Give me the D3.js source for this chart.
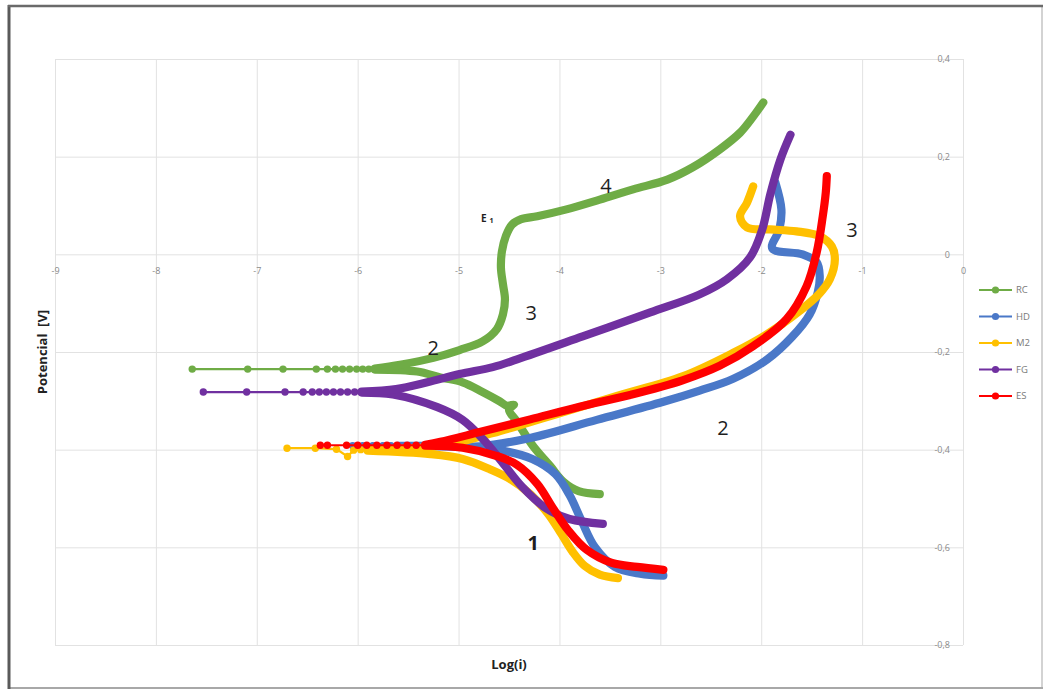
<!DOCTYPE html>
<html>
<head>
<meta charset="utf-8">
<script src="https://cdn.jsdelivr.net/npm/d3@7"></script>
<style>
  html, body { margin: 0; padding: 0; background: #fff; }
  svg { display: block; }
  text { font-family: "Open Sans", "Liberation Sans", sans-serif; }
</style>
</head>
<body>
<svg id="chart" width="1047" height="690"></svg>
<script>
// Polarisation curves: Log(i) against potential [V]
const xTicks = [-9, -8, -7, -6, -5, -4, -3, -2, -1, 0];
const yTicks = [-0.8, -0.6, -0.4, -0.2, 0, 0.2, 0.4];

const seriesNames = ["RC", "HD", "M2", "FG", "ES"];

// Points near the corrosion potential (drawn with markers), [log(i), E]
const rcTail = [[-7.64,-0.235],[-7.09,-0.235],[-6.74,-0.235],[-6.41,-0.235],[-6.30,-0.235],[-6.22,-0.235],[-6.15,-0.235],[-6.08,-0.235],[-6.01,-0.235],[-5.95,-0.235],[-5.89,-0.235],[-5.83,-0.235]];
const hdTail = [[-6.05,-0.392],[-5.95,-0.392],[-5.85,-0.392],[-5.75,-0.392],[-5.67,-0.392],[-5.60,-0.392]];
const m2Tail = [[-6.70,-0.397],[-6.42,-0.397],[-6.21,-0.399],[-6.10,-0.414],[-6.04,-0.401],[-5.97,-0.400],[-5.90,-0.401]];
const fgTail = [[-7.53,-0.282],[-7.10,-0.282],[-6.72,-0.282],[-6.54,-0.282],[-6.45,-0.282],[-6.38,-0.282],[-6.31,-0.282],[-6.24,-0.282],[-6.17,-0.282],[-6.10,-0.282],[-6.03,-0.282],[-5.96,-0.282]];
const esTail = [[-6.37,-0.391],[-6.30,-0.391],[-6.11,-0.391],[-6.00,-0.391],[-5.91,-0.391],[-5.81,-0.391],[-5.71,-0.391],[-5.61,-0.391],[-5.51,-0.391],[-5.42,-0.391],[-5.33,-0.391]];

// Anodic branches, [log(i), E]
const rcAnodic = [[-5.83,-0.234],[-5.58,-0.226],[-5.25,-0.212],[-4.99,-0.196],[-4.76,-0.178],[-4.62,-0.153],[-4.56,-0.123],[-4.54,-0.092],[-4.56,-0.061],[-4.58,-0.027],[-4.57,0.006],[-4.53,0.038],[-4.47,0.061],[-4.38,0.072],[-4.22,0.078],[-3.93,0.092],[-3.60,0.112],[-3.27,0.133],[-2.93,0.153],[-2.68,0.178],[-2.41,0.215],[-2.21,0.249],[-2.08,0.282],[-1.98,0.311]];
const hdAnodic = [[-5.60,-0.392],[-5.28,-0.392],[-4.79,-0.393],[-4.29,-0.376],[-3.63,-0.339],[-2.97,-0.302],[-2.61,-0.279],[-2.28,-0.255],[-1.94,-0.215],[-1.69,-0.168],[-1.52,-0.123],[-1.44,-0.078],[-1.42,-0.045],[-1.45,-0.016],[-1.59,0.000],[-1.89,0.012],[-1.82,0.051],[-1.80,0.092],[-1.86,0.147]];
const m2Anodic = [[-5.90,-0.400],[-5.18,-0.392],[-4.66,-0.366],[-4.09,-0.331],[-3.43,-0.290],[-2.78,-0.250],[-2.28,-0.202],[-1.94,-0.163],[-1.62,-0.116],[-1.43,-0.082],[-1.32,-0.051],[-1.27,-0.010],[-1.30,0.016],[-1.42,0.037],[-1.65,0.047],[-1.91,0.051],[-2.14,0.055],[-2.21,0.078],[-2.14,0.106],[-2.08,0.139]];
const fgAnodic = [[-5.96,-0.281],[-5.62,-0.276],[-5.31,-0.262],[-4.99,-0.245],[-4.66,-0.231],[-4.42,-0.215],[-3.77,-0.168],[-3.10,-0.119],[-2.61,-0.082],[-2.34,-0.051],[-2.11,-0.006],[-1.99,0.051],[-1.91,0.123],[-1.81,0.194],[-1.71,0.245]];
const esAnodic = [[-5.33,-0.390],[-5.18,-0.384],[-4.79,-0.364],[-4.29,-0.338],[-3.80,-0.312],[-3.30,-0.288],[-2.78,-0.258],[-2.41,-0.228],[-2.08,-0.188],[-1.75,-0.133],[-1.55,-0.065],[-1.45,0.004],[-1.39,0.078],[-1.36,0.127],[-1.35,0.160]];

// Cathodic branches, [log(i), E]
const rcCathodic = [[-5.83,-0.236],[-5.41,-0.240],[-5.18,-0.252],[-4.96,-0.262],[-4.76,-0.282],[-4.60,-0.300],[-4.52,-0.310],[-4.45,-0.308],[-4.50,-0.318],[-4.42,-0.343],[-4.26,-0.393],[-4.09,-0.434],[-3.96,-0.466],[-3.81,-0.485],[-3.60,-0.491]];
const hdCathodic = [[-5.60,-0.393],[-4.99,-0.394],[-4.59,-0.401],[-4.27,-0.419],[-4.04,-0.450],[-3.90,-0.493],[-3.78,-0.546],[-3.65,-0.599],[-3.45,-0.640],[-3.20,-0.654],[-2.97,-0.658]];
const m2Cathodic = [[-5.90,-0.402],[-5.28,-0.409],[-4.96,-0.419],[-4.69,-0.440],[-4.49,-0.460],[-4.29,-0.491],[-4.11,-0.532],[-3.98,-0.573],[-3.87,-0.609],[-3.75,-0.638],[-3.60,-0.656],[-3.42,-0.663]];
const fgCathodic = [[-5.96,-0.283],[-5.65,-0.287],[-5.21,-0.313],[-4.96,-0.339],[-4.76,-0.378],[-4.57,-0.425],[-4.37,-0.476],[-4.14,-0.519],[-3.90,-0.542],[-3.57,-0.552]];
const esCathodic = [[-5.33,-0.392],[-4.96,-0.396],[-4.62,-0.413],[-4.42,-0.431],[-4.22,-0.470],[-4.06,-0.521],[-3.91,-0.566],[-3.73,-0.605],[-3.48,-0.632],[-3.23,-0.640],[-2.97,-0.646]];

// Region labels on the curves
const noteTexts = ["4", "3", "2", "3", "2", "1"];
const notePoints = [[-3.54, 0.14], [-4.28, -0.12], [-5.25, -0.19], [-1.10, 0.05], [-2.38, -0.355], [-4.26, -0.59]];

const colors = ["#6fac46", "#4a78c8", "#ffc000", "#7030a0", "#ff0000"];

const series = [
  { name: seriesNames[0], tail: rcTail, anodic: rcAnodic, cathodic: rcCathodic, color: colors[0] },
  { name: seriesNames[1], tail: hdTail, anodic: hdAnodic, cathodic: hdCathodic, color: colors[1] },
  { name: seriesNames[2], tail: m2Tail, anodic: m2Anodic, cathodic: m2Cathodic, color: colors[2] },
  { name: seriesNames[3], tail: fgTail, anodic: fgAnodic, cathodic: fgCathodic, color: colors[3] },
  { name: seriesNames[4], tail: esTail, anodic: esAnodic, cathodic: esCathodic, color: colors[4] }
];

const svg = d3.select("#chart");
const W = 1047, H = 690;
svg.append("rect").attr("width", W).attr("height", H).attr("fill", "#fff");

// frame round the chart
svg.append("line").attr("x1", 1042).attr("y1", 6).attr("x2", 1042).attr("y2", 688).attr("stroke", "#c4c4c4").attr("stroke-width", 1.5);
svg.append("line").attr("x1", 9).attr("y1", 688).attr("x2", 1043).attr("y2", 688).attr("stroke", "#a8a8a8").attr("stroke-width", 2);
svg.append("line").attr("x1", 9).attr("y1", 5).attr("x2", 9).attr("y2", 689).attr("stroke", "#5a5a5a").attr("stroke-width", 3);
svg.append("line").attr("x1", 8).attr("y1", 6).attr("x2", 1043).attr("y2", 6).attr("stroke", "#6a6a6a").attr("stroke-width", 2.5);

const x = d3.scaleLinear().domain([-9, 0]).range([55, 963]);
const y = d3.scaleLinear().domain([-0.8, 0.4]).range([645, 59]);

const loc = d3.formatLocale({ decimal: ",", thousands: ".", grouping: [3], currency: ["", ""], minus: "-" });
const fmtY = d => (Math.abs(d) < 1e-9 ? "0" : loc.format(".1f")(d));
const fmtX = loc.format("d");

// gridlines
const grid = svg.append("g");
grid.append("g").attr("transform", `translate(0,${y(-0.8)})`)
  .call(d3.axisBottom(x).tickValues(xTicks).tickSize(-(y(-0.8) - y(0.4))).tickFormat(""))
  .call(g => g.select(".domain").remove())
  .call(g => g.selectAll("line").attr("stroke", "#e2e2e2").attr("stroke-width", 1));
grid.append("g").attr("transform", `translate(${x(-9)},0)`)
  .call(d3.axisLeft(y).tickValues(yTicks).tickSize(-(x(0) - x(-9))).tickFormat(""))
  .call(g => g.select(".domain").remove())
  .call(g => g.selectAll("line").attr("stroke", "#e2e2e2").attr("stroke-width", 1));

// tick labels: x along the zero line, y against the right edge
svg.append("g").attr("transform", `translate(0,${y(0)})`)
  .call(d3.axisBottom(x).tickValues(xTicks).tickSize(0).tickPadding(13).tickFormat(fmtX))
  .call(g => g.select(".domain").remove())
  .call(g => g.selectAll("text").attr("fill", "#8a8a8a").style("font-size", "9px"));
svg.append("g").attr("transform", `translate(${x(0)},0)`)
  .call(d3.axisLeft(y).tickValues(yTicks).tickSize(0).tickPadding(13).tickFormat(fmtY))
  .call(g => g.select(".domain").remove())
  .call(g => g.selectAll("text").attr("fill", "#8a8a8a").style("font-size", "9px"));

// axis titles
svg.append("text").attr("x", (x(-9) + x(0)) / 2).attr("y", 669)
  .attr("text-anchor", "middle").attr("font-weight", "bold").style("font-size", "13px").attr("fill", "#222")
  .text("Log(i)");
svg.append("text").attr("transform", `translate(47,${(y(-0.8) + y(0.4)) / 2}) rotate(-90)`)
  .attr("text-anchor", "middle").attr("font-weight", "bold").style("font-size", "13px").attr("fill", "#222")
  .style("white-space", "pre").text("Potencial  [V]");

const smooth = d3.line().x(d => x(d[0])).y(d => y(d[1])).curve(d3.curveCatmullRom.alpha(0.5));
const straight = d3.line().x(d => x(d[0])).y(d => y(d[1]));

const plot = svg.append("g");
series.forEach(s => {
  const g = plot.append("g");
  g.append("path").attr("d", straight(s.tail)).attr("fill", "none")
    .attr("stroke", s.color).attr("stroke-width", 2.2);
  g.selectAll("circle").data(s.tail).join("circle")
    .attr("cx", d => x(d[0])).attr("cy", d => y(d[1])).attr("r", 3.7).attr("fill", s.color);
  [s.cathodic, s.anodic].forEach(branch => {
    g.append("path").attr("d", smooth(branch)).attr("fill", "none")
      .attr("stroke", s.color).attr("stroke-width", 8.2)
      .attr("stroke-linecap", "round").attr("stroke-linejoin", "round");
  });
});

// annotations
svg.selectAll("text.note").data(noteTexts).join("text").attr("class", "note")
  .attr("x", (d, i) => x(notePoints[i][0])).attr("y", (d, i) => y(notePoints[i][1]))
  .attr("text-anchor", "middle").attr("dominant-baseline", "central")
  .style("font-size", "20px").attr("fill", "#1e1e1e")
  .attr("font-weight", (d, i) => (i === 5 ? "bold" : "normal"))
  .text(d => d);
const e1 = svg.append("text").attr("x", 481).attr("y", 222).attr("fill", "#1e1e1e").attr("font-weight", "bold").style("font-size", "10px");
e1.append("tspan").text("E");
e1.append("tspan").attr("dx", 3).attr("dy", 1).style("font-size", "7px").text("1");

// legend
const legend = svg.append("g").attr("transform", "translate(979,290)");
series.forEach((s, i) => {
  const row = legend.append("g").attr("transform", `translate(0,${i * 26.5})`);
  row.append("line").attr("x1", 0).attr("x2", 33).attr("stroke", s.color).attr("stroke-width", 2.2);
  row.append("circle").attr("cx", 16.5).attr("r", 3.6).attr("fill", s.color);
  row.append("text").attr("x", 37).attr("dy", "0.35em").style("font-size", "9.5px").attr("fill", "#7a7a7a").text(s.name);
});
</script>
</body>
</html>
